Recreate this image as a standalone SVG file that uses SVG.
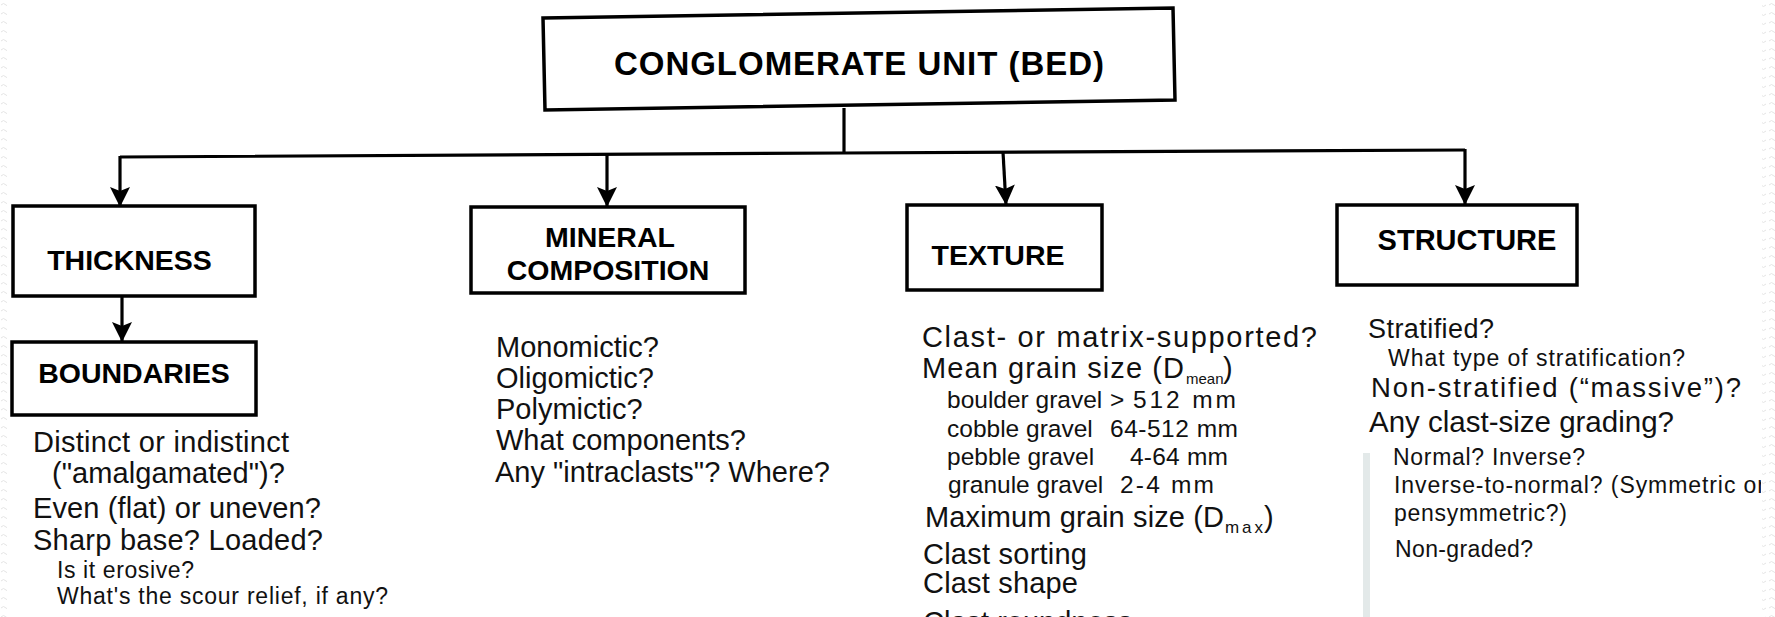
<svg xmlns="http://www.w3.org/2000/svg" width="1775" height="617" viewBox="0 0 1775 617">
<style>
.box{fill:#fff;stroke:#000;stroke-width:3.5;stroke-linejoin:miter}
.hd{font-family:"Liberation Sans",Arial,Helvetica,sans-serif;font-weight:bold;fill:#000}
.t{font-family:"Liberation Sans",Arial,Helvetica,sans-serif;fill:#111}
.m{font-size:29px}
.s{font-size:23px}
.g{font-size:24.5px}
.sub{font-size:15px}
.ln{fill:none;stroke:#000;stroke-width:3.2}
</style>
<defs>
<marker id="ah" viewBox="0 0 20 20" refX="20" refY="10" markerWidth="20" markerHeight="21" markerUnits="userSpaceOnUse" orient="auto">
<path d="M0,0 L20,10 L0,20 L4,10 z" fill="#000"/>
</marker>
<pattern id="wave" width="13" height="9" patternUnits="userSpaceOnUse">
<path d="M1,5 q2.5,-3 5,0 t5,0" fill="none" stroke="#e4e4e4" stroke-width="1"/>
</pattern>
<clipPath id="rclip"><rect x="0" y="0" width="1761" height="617"/></clipPath>
</defs>
<rect x="0" y="0" width="1775" height="617" fill="#fff"/>
<rect x="0" y="0" width="7" height="617" fill="url(#wave)"/>
<rect x="1762" y="0" width="13" height="617" fill="url(#wave)"/>

<g id="connectors">
<line class="ln" x1="844" y1="108" x2="844" y2="153"/>
<polyline class="ln" points="120,157 844,153 1465,150"/>
<line class="ln" x1="120" y1="156" x2="120" y2="207" marker-end="url(#ah)"/>
<line class="ln" x1="607" y1="155" x2="607" y2="207" marker-end="url(#ah)"/>
<line class="ln" x1="1003" y1="152" x2="1006" y2="205" marker-end="url(#ah)"/>
<line class="ln" x1="1465" y1="149" x2="1465" y2="205" marker-end="url(#ah)"/>
<line class="ln" x1="122" y1="295" x2="122" y2="342" marker-end="url(#ah)"/>
</g>

<g id="node-conglomerate">
<polygon class="box" points="543,18 1173,8 1175,100 545,110"/>
<text class="hd" x="614" y="75" font-size="33" textLength="490" lengthAdjust="spacing">CONGLOMERATE UNIT (BED)</text>
</g>

<g id="node-thickness">
<rect class="box" x="13" y="206" width="242" height="90"/>
<text class="hd" x="129.5" y="270" font-size="28.5" text-anchor="middle">THICKNESS</text>
</g>

<g id="node-boundaries">
<rect class="box" x="12" y="342" width="244" height="73"/>
<text class="hd" x="134" y="383" font-size="28.5" text-anchor="middle">BOUNDARIES</text>
<text class="t m" x="33" y="452" textLength="256" lengthAdjust="spacing">Distinct or indistinct</text>
<text class="t m" x="52" y="483" textLength="233" lengthAdjust="spacing">("amalgamated")?</text>
<text class="t m" x="33" y="518" textLength="288" lengthAdjust="spacing">Even (flat) or uneven?</text>
<text class="t m" x="33" y="550" textLength="290" lengthAdjust="spacing">Sharp base? Loaded?</text>
<text class="t s" x="57" y="578" textLength="137" lengthAdjust="spacing">Is it erosive?</text>
<text class="t s" x="57" y="604" textLength="331" lengthAdjust="spacing">What's the scour relief, if any?</text>
</g>

<g id="node-mineral">
<rect class="box" x="471" y="207" width="274" height="86"/>
<text class="hd" x="610" y="247" font-size="28.5" text-anchor="middle">MINERAL</text>
<text class="hd" x="608" y="280" font-size="28.5" text-anchor="middle">COMPOSITION</text>
<text class="t m" x="496" y="357">Monomictic?</text>
<text class="t m" x="496" y="388">Oligomictic?</text>
<text class="t m" x="496" y="419">Polymictic?</text>
<text class="t m" x="496" y="450">What components?</text>
<text class="t m" x="495" y="482">Any "intraclasts"? Where?</text>
</g>

<g id="node-texture">
<rect class="box" x="907" y="205" width="195" height="85"/>
<text class="hd" x="998" y="265" font-size="28.5" text-anchor="middle">TEXTURE</text>
<text class="t m" x="922" y="347" textLength="395" lengthAdjust="spacing">Clast- or matrix-supported?</text>
<text class="t m" x="922" y="378" textLength="262" lengthAdjust="spacing">Mean grain size (D</text>
<text class="t sub" x="1186" y="384">mean</text>
<text class="t m" x="1223" y="378">)</text>
<text class="t g" x="947" y="408">boulder gravel</text>
<text class="t g" x="1110" y="408">&gt;</text>
<text class="t g" x="1133" y="408" textLength="103" lengthAdjust="spacing">512 mm</text>
<text class="t g" x="947" y="437">cobble gravel</text>
<text class="t g" x="1110" y="437" textLength="128" lengthAdjust="spacing">64-512 mm</text>
<text class="t g" x="947" y="465">pebble gravel</text>
<text class="t g" x="1130" y="465" textLength="98" lengthAdjust="spacing">4-64 mm</text>
<text class="t g" x="948" y="493">granule gravel</text>
<text class="t g" x="1120" y="493" textLength="94" lengthAdjust="spacing">2-4 mm</text>
<text class="t m" x="925" y="527" textLength="299" lengthAdjust="spacing">Maximum grain size (D</text>
<text class="t" x="1225" y="533" font-size="17" textLength="38" lengthAdjust="spacing">max</text>
<text class="t m" x="1264" y="527">)</text>
<text class="t m" x="923" y="564" textLength="164" lengthAdjust="spacing">Clast sorting</text>
<text class="t m" x="923" y="593" textLength="155" lengthAdjust="spacing">Clast shape</text>
<text class="t m" x="923" y="632">Clast roundness</text>
</g>

<g id="node-structure">
<rect class="box" x="1337" y="205" width="240" height="80"/>
<text class="hd" x="1467" y="250" font-size="29" text-anchor="middle">STRUCTURE</text>
<text class="t" x="1368" y="338" font-size="27" textLength="126" lengthAdjust="spacing">Stratified?</text>
<text class="t s" x="1388" y="366" textLength="297" lengthAdjust="spacing">What type of stratification?</text>
<text class="t" x="1371" y="397" font-size="27.5" textLength="370" lengthAdjust="spacing">Non-stratified (“massive”)?</text>
<text class="t" x="1369" y="432" font-size="29.5" textLength="305" lengthAdjust="spacing">Any clast-size grading?</text>
<rect x="1363" y="453" width="7" height="164" fill="#e3e9e9"/>
<text class="t s" x="1393" y="465" textLength="192" lengthAdjust="spacing">Normal? Inverse?</text>
<text class="t s" x="1394" y="493" textLength="371" lengthAdjust="spacing" clip-path="url(#rclip)">Inverse-to-normal? (Symmetric or</text>
<text class="t s" x="1394" y="521" textLength="173" lengthAdjust="spacing">pensymmetric?)</text>
<text class="t s" x="1395" y="557" textLength="138" lengthAdjust="spacing">Non-graded?</text>
</g>
</svg>
